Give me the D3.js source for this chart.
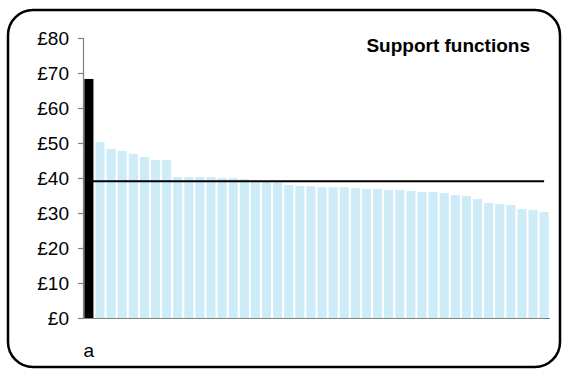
<!DOCTYPE html>
<html>
<head>
<meta charset="utf-8">
<script src="https://cdn.jsdelivr.net/npm/d3@7"></script>
<style>
  html, body { margin: 0; padding: 0; background: #fff; }
  svg { display: block; }
  text { font-family: "Liberation Sans", Arial, sans-serif; }
</style>
</head>
<body>
<svg id="chart" width="562" height="369"></svg>
<script>
// ---- data ----
const title = "Support functions";
const highlightValue = 68.3;
const otherValues = [50.3, 48.3, 47.7, 46.9, 46.0, 45.1, 45.1, 40.3, 40.3, 40.3, 40.3, 40.0, 40.0, 39.7,
  39.2, 39.0, 38.8, 38.0, 37.7, 37.7, 37.4, 37.4, 37.4, 37.1, 36.9, 36.9, 36.6, 36.6, 36.3, 36.0,
  36.0, 35.7, 35.1, 34.9, 34.0, 32.9, 32.6, 32.3, 31.1, 30.9, 30.3];
const values = [highlightValue].concat(otherValues);
const xTickLabels = ["a"];
const benchmark = 39.1;
const yTicks = [0, 10, 20, 30, 40, 50, 60, 70, 80];

// ---- layout ----
const svg = d3.select("#chart");
const W = 562, H = 369;
svg.append("rect").attr("width", W).attr("height", H).attr("fill", "#fff");

svg.append("rect")
  .attr("x", 8).attr("y", 10)
  .attr("width", 552).attr("height", 357)
  .attr("rx", 25).attr("ry", 25)
  .attr("fill", "#fff").attr("stroke", "#000").attr("stroke-width", 2.5);

const x = d3.scaleBand()
  .domain(values.map((d, i) => i))
  .range([83, 550])
  .paddingInner(0.18)
  .paddingOuter(0.12);

const y = d3.scaleLinear().domain([0, 80]).range([318, 38]);

// bars
svg.append("g").selectAll("rect")
  .data(values)
  .join("rect")
  .attr("x", (d, i) => x(i))
  .attr("y", d => y(d))
  .attr("width", x.bandwidth())
  .attr("height", d => y(0) - y(d))
  .attr("fill", (d, i) => i === 0 ? "#000" : "#cdecf8");

// benchmark line
const first = 0, last = values.length - 1;
svg.append("line")
  .attr("x1", x(first) + x.bandwidth() / 2)
  .attr("x2", x(last) + x.bandwidth() / 2)
  .attr("y1", y(benchmark)).attr("y2", y(benchmark))
  .attr("stroke", "#000").attr("stroke-width", 2);

// y axis
const yAxis = d3.axisLeft(y)
  .tickValues(yTicks)
  .tickSize(5)
  .tickPadding(9)
  .tickFormat(d => "£" + d);
const gy = svg.append("g").attr("transform", "translate(83,0)").call(yAxis);
gy.select(".domain").attr("stroke", "#808080").attr("stroke-width", 1.2);
gy.selectAll(".tick line").attr("stroke", "#808080").attr("stroke-width", 1.2);
gy.selectAll(".tick text")
  .attr("fill", "#000")
  .style("font-size", "19px")
  .style("font-family", "'Liberation Sans', Arial, sans-serif");

// x axis
const xAxis = d3.axisBottom(x)
  .tickSize(0)
  .tickPadding(26)
  .tickFormat(i => xTickLabels[i] !== undefined ? xTickLabels[i] : "");
const gx = svg.append("g").attr("transform", "translate(0,318)").call(xAxis);
gx.select(".domain").attr("stroke", "#808080").attr("stroke-width", 1.2)
  .attr("d", "M83,0.5H550");
gx.selectAll(".tick text")
  .attr("fill", "#000")
  .style("font-size", "19px")
  .style("font-family", "'Liberation Sans', Arial, sans-serif");

// title
svg.append("text")
  .attr("x", 530).attr("y", 52)
  .attr("text-anchor", "end")
  .style("font-size", "19px")
  .style("font-weight", "bold")
  .text(title);
</script>
</body>
</html>
